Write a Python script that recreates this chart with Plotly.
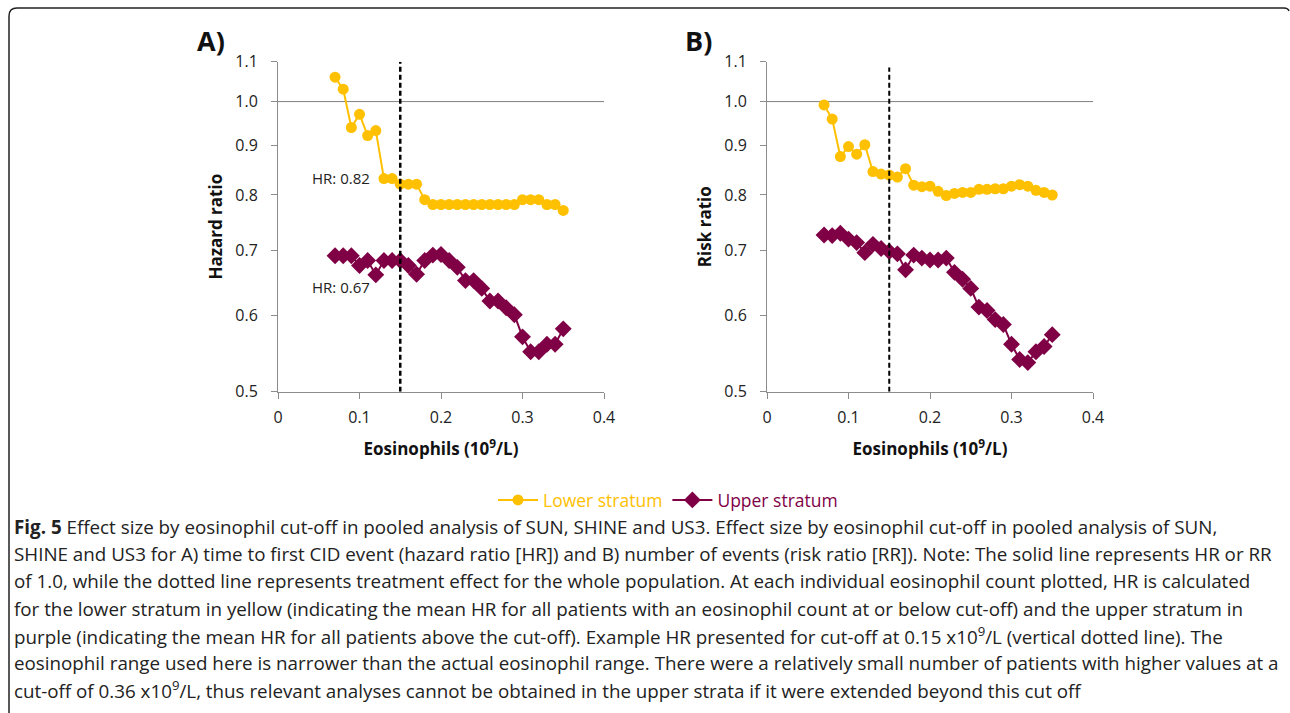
import plotly.graph_objects as go

# ---------------- data ----------------
eos_cutoff = [0.07, 0.08, 0.09, 0.10, 0.11, 0.12, 0.13, 0.14, 0.15, 0.16,
              0.17, 0.18, 0.19, 0.20, 0.21, 0.22, 0.23, 0.24, 0.25, 0.26,
              0.27, 0.28, 0.29, 0.30, 0.31, 0.32, 0.33, 0.34, 0.35]

hr_lower = [1.06, 1.03, 0.94, 0.97, 0.922, 0.933, 0.832, 0.832, 0.821, 0.821,
            0.821, 0.791, 0.782, 0.782, 0.782, 0.782, 0.782, 0.782, 0.782, 0.782,
            0.782, 0.782, 0.782, 0.791, 0.791, 0.791, 0.782, 0.782, 0.771]
hr_upper = [0.692, 0.692, 0.692, 0.676, 0.684, 0.661, 0.684, 0.684, 0.684, 0.676,
            0.662, 0.684, 0.693, 0.694, 0.684, 0.673, 0.652, 0.652, 0.640, 0.621,
            0.621, 0.611, 0.601, 0.570, 0.550, 0.550, 0.560, 0.560, 0.581]

rr_lower = [0.992, 0.959, 0.877, 0.898, 0.882, 0.902, 0.846, 0.841, 0.839, 0.835,
            0.852, 0.819, 0.816, 0.817, 0.807, 0.799, 0.803, 0.805, 0.805, 0.811,
            0.811, 0.812, 0.812, 0.817, 0.820, 0.817, 0.809, 0.805, 0.800]
rr_upper = [0.727, 0.726, 0.730, 0.720, 0.714, 0.697, 0.711, 0.704, 0.699, 0.695,
            0.669, 0.693, 0.688, 0.685, 0.685, 0.688, 0.665, 0.654, 0.640, 0.612,
            0.607, 0.594, 0.587, 0.560, 0.540, 0.536, 0.550, 0.557, 0.573]

ref_ratio = 1.0
cutoff_example = 0.15
x_ref = [0, 0.4]
y_ticks = [0.5, 0.6, 0.7, 0.8, 0.9, 1.0, 1.1]
y_ticktext = ["0.5", "0.6", "0.7", "0.8", "0.9", "1.0", "1.1"]
x_ticks = [0, 0.1, 0.2, 0.3, 0.4]
x_ticktext = ["0", "0.1", "0.2", "0.3", "0.4"]

caption_lines = [
    "<b>Fig. 5</b> Effect size by eosinophil cut-off in pooled analysis of SUN, SHINE and US3. Effect size by eosinophil cut-off in pooled analysis of SUN,",
    "SHINE and US3 for A) time to first CID event (hazard ratio [HR]) and B) number of events (risk ratio [RR]). Note: The solid line represents HR or RR",
    "of 1.0, while the dotted line represents treatment effect for the whole population. At each individual eosinophil count plotted, HR is calculated",
    "for the lower stratum in yellow (indicating the mean HR for all patients with an eosinophil count at or below cut-off) and the upper stratum in",
    "purple (indicating the mean HR for all patients above the cut-off). Example HR presented for cut-off at 0.15 x10<sup>9</sup>/L (vertical dotted line). The",
    "eosinophil range used here is narrower than the actual eosinophil range. There were a relatively small number of patients with higher values at a",
    "cut-off of 0.36 x10<sup>9</sup>/L, thus relevant analyses cannot be obtained in the upper strata if it were extended beyond this cut off",
]

# ---------------- style ----------------
W, H = 1290, 713
YEL = "#FFC000"
PUR = "#800046"
AX = "#8C8C8C"
FONT = "Open Sans"


def px_x(p):
    return p / W


def px_y(p):
    return 1 - p / H


fig = go.Figure()

panels = [
    ("x", "y", hr_lower, hr_upper, True),
    ("x2", "y2", rr_lower, rr_upper, False),
]
for xa, ya, low, up, show in panels:
    fig.add_trace(go.Scatter(x=x_ref, y=[ref_ratio, ref_ratio], mode="lines",
                             line=dict(color="#7F7F7F", width=1), xaxis=xa, yaxis=ya,
                             showlegend=False, hoverinfo="skip"))
    fig.add_trace(go.Scatter(x=eos_cutoff, y=low, mode="lines+markers", name=
                             "<span style='color:%s'>Lower stratum</span>" % YEL,
                             line=dict(color=YEL, width=2),
                             marker=dict(symbol="circle", size=11, color=YEL),
                             xaxis=xa, yaxis=ya, showlegend=show, legendgroup="low"))
    fig.add_trace(go.Scatter(x=eos_cutoff, y=up, mode="lines+markers", name=
                             "<span style='color:%s'>Upper stratum</span>" % PUR,
                             line=dict(color=PUR, width=2),
                             marker=dict(symbol="diamond", size=13, color=PUR),
                             xaxis=xa, yaxis=ya, showlegend=show, legendgroup="up"))

fig.add_trace(go.Scatter(x=[cutoff_example, cutoff_example], y=[0.5, 1.1], mode="lines",
                         line=dict(color="black", width=2.5, dash="5px,3px"),
                         xaxis="x", yaxis="y", showlegend=False, hoverinfo="skip"))
fig.add_trace(go.Scatter(x=[cutoff_example, cutoff_example], y=[0.5, 1.085], mode="lines",
                         line=dict(color="black", width=2, dash="5px,3px"),
                         xaxis="x2", yaxis="y2", showlegend=False, hoverinfo="skip"))

xdomA = [px_x(278), px_x(604)]
xdomB = [px_x(767), px_x(1093)]
ydom = [px_y(391.7), px_y(61.7)]

common_x = dict(range=[0, 0.4], tickvals=x_ticks, ticktext=x_ticktext, showline=True,
                linecolor=AX, linewidth=1, ticks="outside", ticklen=6, tickcolor=AX,
                showgrid=False, zeroline=False, automargin=False, ticklabelstandoff=5,
                tickfont=dict(family=FONT, size=16, color="#222"),
                title=dict(text="<b>Eosinophils (10<sup>9</sup>/L)</b>", standoff=16,
                           font=dict(family=FONT, size=17, color="#111")))
common_y = dict(type="log", range=[-0.30103, 0.041393], tickvals=y_ticks, ticktext=y_ticktext,
                showline=True, linecolor=AX, linewidth=1, ticks="outside", ticklen=6,
                tickcolor=AX, showgrid=False, zeroline=False, automargin=False,
                ticklabelstandoff=10,
                tickfont=dict(family=FONT, size=16, color="#222"))

fig.update_layout(
    width=W, height=H,
    margin=dict(l=0, r=0, t=0, b=0, autoexpand=False),
    paper_bgcolor="white", plot_bgcolor="white",
    font=dict(family=FONT, color="#222"),
    xaxis=dict(domain=xdomA, anchor="y", **common_x),
    yaxis=dict(domain=ydom, anchor="x", **common_y,
               title=dict(text="<b>Hazard ratio</b>", standoff=8,
                          font=dict(family=FONT, size=17, color="#111"))),
    xaxis2=dict(domain=xdomB, anchor="y2", **common_x),
    yaxis2=dict(domain=ydom, anchor="x2", **common_y,
                title=dict(text="<b>Risk ratio</b>", standoff=8,
                           font=dict(family=FONT, size=17, color="#111"))),
    legend=dict(orientation="h", x=px_x(668), xanchor="center", y=px_y(500), yanchor="middle",
                font=dict(family=FONT, size=17.5), bgcolor="rgba(0,0,0,0)",
                itemwidth=40, tracegroupgap=0),
    showlegend=True,
)

annots = [
    dict(text="<b>A)</b>", x=px_x(211), y=px_y(40), font=dict(size=27, color="#111")),
    dict(text="<b>B)</b>", x=px_x(698), y=px_y(40), font=dict(size=27, color="#111")),
    dict(text="HR: 0.82", x=px_x(341), y=px_y(178), font=dict(size=15, color="#222")),
    dict(text="HR: 0.67", x=px_x(341), y=px_y(287), font=dict(size=15, color="#222")),
]
for a in annots:
    a.update(xref="paper", yref="paper", showarrow=False, xanchor="center", yanchor="middle")
    a["font"]["family"] = FONT
    fig.add_annotation(**a)

cap_top = 527
cap_step = 27.2
for i, line in enumerate(caption_lines):
    fig.add_annotation(text=line, xref="paper", yref="paper", x=px_x(12),
                       y=px_y(cap_top + i * cap_step), xanchor="left", yanchor="middle",
                       showarrow=False, align="left",
                       font=dict(family=FONT, size=18.8, color="#222"))

fig.add_shape(type="path", xref="paper", yref="paper",
              path="M %f %f L %f %f Q %f %f %f %f L %f %f Q %f %f %f %f" % (
                  px_x(9), px_y(713), px_x(9), px_y(16), px_x(9), px_y(8), px_x(17), px_y(8),
                  px_x(1284), px_y(8), px_x(1288), px_y(8), px_x(1289), px_y(11)),
              line=dict(color="#222", width=1.5))

fig.write_html("out.html", config={"displayModeBar": False},
               post_script="document.body.style.margin='0';document.body.style.overflow='hidden';")
